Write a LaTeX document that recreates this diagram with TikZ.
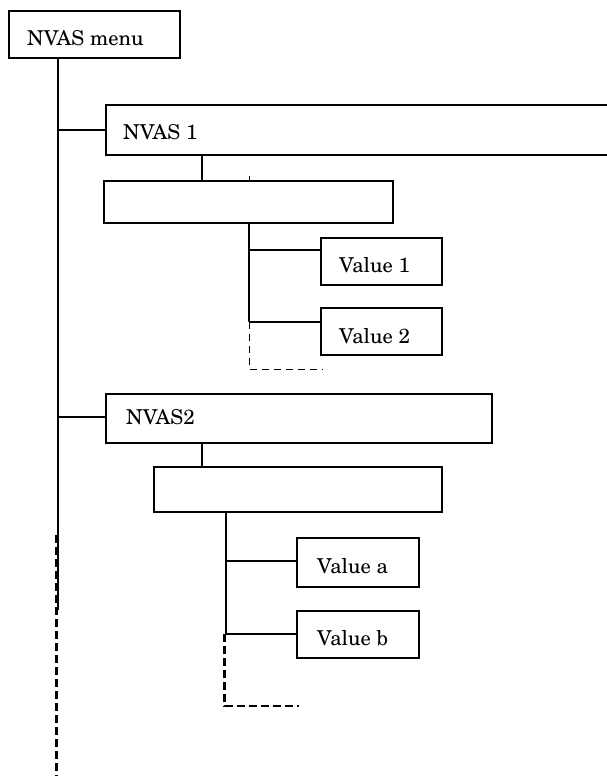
\documentclass[tikz,border=0pt]{standalone}
\usepackage{fontspec}
\newfontfamily\lblfont{texgyreschola-regular}[Extension=.otf]
\begin{document}
\begin{tikzpicture}[x=1pt,y=-1pt,
  box/.style={draw, line width=1.7pt, inner sep=0pt, anchor=north west},
  lbl/.style={anchor=base west, inner sep=0pt, font=\lblfont\fontsize{20.5}{24}\selectfont},
  wire/.style={line width=1.6pt},
  thinwire/.style={line width=1pt},
  thindash/.style={line width=1pt, dash pattern=on 7pt off 5pt},
  thickdash/.style={line width=2.2pt, dash pattern=on 8pt off 4pt}]
\useasboundingbox (0,0) rectangle (607,776);

% boxes
\node[box, minimum width=171pt, minimum height=47pt] (menu) at (8,10) {};
\node[box, minimum width=510pt, minimum height=50pt] (nvas1) at (105,104) {};
\node[box, minimum width=289pt, minimum height=42pt] (sub1) at (103,180) {};
\node[box, minimum width=121pt, minimum height=47pt] (val1) at (320,237) {};
\node[box, minimum width=121pt, minimum height=47pt] (val2) at (320,307) {};
\node[box, minimum width=386pt, minimum height=49pt] (nvas2) at (105,393) {};
\node[box, minimum width=288pt, minimum height=45pt] (sub2) at (153,466) {};
\node[box, minimum width=122pt, minimum height=49pt] (vala) at (296,537) {};
\node[box, minimum width=122pt, minimum height=47pt] (valb) at (296,610) {};

% labels
\node[lbl] (tmenu) at (27,46) {NVAS menu};
\node[lbl] (t1) at (123,139) {NVAS 1};
\node[lbl] (t2) at (126,424) {NVAS2};
\node[lbl] (tv1) at (339,272) {Value 1};
\node[lbl] (tv2) at (339,343) {Value 2};
\node[lbl] (tva) at (317,573) {Value a};
\node[lbl] (tvb) at (317,645) {Value b};

% coordinates
\coordinate (trunk) at (58,610);
\coordinate (d0a) at (56.5,535);
\coordinate (d0b) at (56.5,776);
\coordinate (c1) at (202,167);
\coordinate (v1) at (249,322);
\coordinate (d1) at (323,369);
\coordinate (v2) at (226,634);
\coordinate (d2top) at (224.5,634);
\coordinate (d2) at (299,706);

% connectors
\draw[wire] (menu.south -| trunk) -- (trunk);
\draw[thickdash] (d0a) -- (d0b);
\draw[wire] (nvas1.west) -- (nvas1.west -| trunk);
\draw[wire] ([yshift=1.5pt]nvas2.west) -- ([yshift=1.5pt]nvas2.west -| trunk);
\draw[wire] (nvas1.south -| c1) -- (sub1.north -| c1);
\draw[thinwire] (sub1.north -| v1) -- ++(0,-4);
\draw[wire] (sub1.south -| v1) -- (v1);
\draw[thindash] (v1) |- (d1);
\draw[wire] ([yshift=11.5pt]val1.west) -- ([yshift=11.5pt]val1.west -| v1);
\draw[wire] ([yshift=9.5pt]val2.west) -- ([yshift=9.5pt]val2.west -| v1);
\draw[wire] (nvas2.south -| c1) -- (sub2.north -| c1);
\draw[wire] (sub2.south -| v2) -- (v2);
\draw[thickdash] (d2top) |- (d2);
\draw[wire] ([yshift=1.5pt]vala.west) -- ([yshift=1.5pt]vala.west -| v2);
\draw[wire] ([yshift=0.5pt]valb.west) -- ([yshift=0.5pt]valb.west -| v2);
\end{tikzpicture}
\end{document}
